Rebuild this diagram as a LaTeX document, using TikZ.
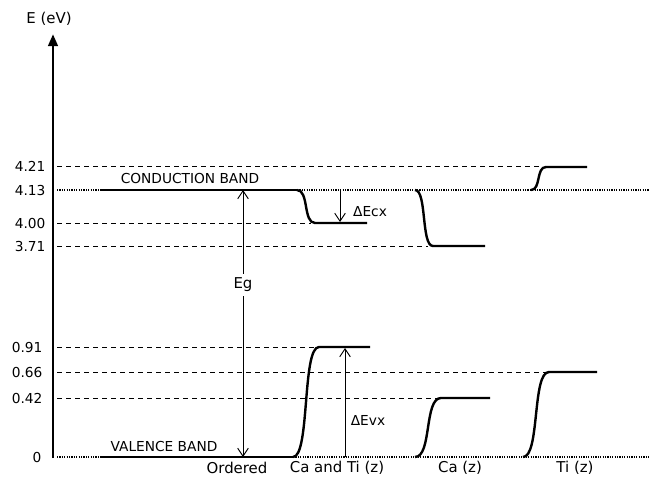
\documentclass[tikz,border=0pt]{standalone}
\usepackage{fontspec}
\setmainfont{DejaVu Sans}
\usetikzlibrary{arrows.meta}
\begin{document}
\begin{tikzpicture}[x=0.75pt,y=-0.75pt,
  lvl/.style={dash pattern=on 3.75pt off 3pt, line width=0.75pt},
  band/.style={line width=1.8pt},
  dotband/.style={line width=1.6pt, dash pattern=on 0.9pt off 0.9pt},
  meas/.style={line width=0.7pt},
  lab/.style={font=\fontsize{10.3}{12}\selectfont, inner sep=1pt},
  big/.style={font=\fontsize{11.2}{13}\selectfont, inner sep=1pt},
  ]
\useasboundingbox (0,0) rectangle (649,479);
% axis
\coordinate (ax0) at (53,458);
\coordinate (axtop) at (53,34);
\draw[line width=2.2pt, -{Triangle[length=9pt,width=7pt]}] (ax0) -- (axtop);
\node[big] (eunit) at (49,19) {E (eV)};
% tick labels
\node[lab, anchor=east] (t421) at (47,166) {4.21};
\node[lab, anchor=east] (t413) at (47,190) {4.13};
\node[lab, anchor=east] (t400) at (47,223) {4.00};
\node[lab, anchor=east] (t371) at (47,246) {3.71};
\node[lab, anchor=east] (t091) at (44,347) {0.91};
\node[lab, anchor=east] (t066) at (44,372) {0.66};
\node[lab, anchor=east] (t042) at (44,398) {0.42};
\node[lab, anchor=east] (t000) at (43,457) {0};
% dashed level lines
\coordinate (l421a) at (57,166); \coordinate (l421b) at (542,166);
\coordinate (l400a) at (57,223); \coordinate (l400b) at (311,223);
\coordinate (l371a) at (57,246); \coordinate (l371b) at (428,246);
\coordinate (l091a) at (57,347); \coordinate (l091b) at (314,347);
\coordinate (l066a) at (57,372); \coordinate (l066b) at (546,372);
\coordinate (l042a) at (57,398); \coordinate (l042b) at (437,398);
\draw[lvl] (l421a) -- (l421b);
\draw[lvl] (l400a) -- (l400b);
\draw[lvl] (l371a) -- (l371b);
\draw[lvl] (l091a) -- (l091b);
\draw[lvl] (l066a) -- (l066b);
\draw[lvl] (l042a) -- (l042b);
% band edges (dotted reference)
\coordinate (cbL) at (57,190); \coordinate (cb1) at (100,190); \coordinate (cb2) at (297,190); \coordinate (cbR) at (649,190);
\coordinate (vbL) at (57,457); \coordinate (vb1) at (100,457); \coordinate (vb2) at (293,457); \coordinate (vbR) at (649,457);
\draw[dotband] (cbL) -- (cb1);
\draw[dotband] (cb2) -- (cbR);
\draw[dotband] (vbL) -- (vb1);
\draw[dotband] (vb2) -- (vbR);
% ordered bands
\draw[band] (cb1) -- (cb2);
\draw[band] (vb1) -- (vb2);
% Ca and Ti (z)
\coordinate (c1a) at (315,223); \coordinate (c1b) at (367,223);
\draw[band] (cb2) .. controls +(12,0) and +(-12,0) .. (c1a) -- (c1b);
\coordinate (v1a) at (319,347); \coordinate (v1b) at (370,347);
\draw[band] (vb2) .. controls +(17,0) and +(-17,0) .. (v1a) -- (v1b);
% Ca (z)
\coordinate (c2s) at (415,190); \coordinate (c2a) at (433,246); \coordinate (c2b) at (485,246);
\draw[band] (c2s) .. controls +(12,0) and +(-12,0) .. (c2a) -- (c2b);
\coordinate (v2s) at (415,457); \coordinate (v2a) at (441,398); \coordinate (v2b) at (490,398);
\draw[band] (v2s) .. controls +(17,0) and +(-17,0) .. (v2a) -- (v2b);
% Ti (z)
\coordinate (c3s) at (531,190); \coordinate (c3a) at (546,167); \coordinate (c3b) at (587,167);
\draw[band] (c3s) .. controls +(10,0) and +(-10,0) .. (c3a) -- (c3b);
\coordinate (v3s) at (523,457); \coordinate (v3a) at (549,372); \coordinate (v3b) at (597,372);
\draw[band] (v3s) .. controls +(17,0) and +(-17,0) .. (v3a) -- (v3b);
% band labels
\node[lab] (cbname) at (190,178) {CONDUCTION BAND};
\node[lab] (vbname) at (164,446) {VALENCE BAND};
% Eg arrow
\coordinate (egtop) at (243,190); \coordinate (egbot) at (243,457);
\draw[meas, {Straight Barb[length=6pt,width=8pt]}-{Straight Barb[length=6pt,width=8pt]}] (egbot) -- (egtop);
\node[big, fill=white, inner sep=3pt] (eg) at (243,285) {Eg};
% Delta Ecx
\coordinate (ecxtop) at (340,190); \coordinate (ecxbot) at (340,222);
\draw[meas, -{Straight Barb[length=6pt,width=8pt]}] (ecxtop) -- (ecxbot);
\node[lab] (ecx) at (370,212) {ΔEcx};
% Delta Evx
\coordinate (evxbot) at (345,457); \coordinate (evxtop) at (345,348);
\draw[meas, -{Straight Barb[length=6pt,width=8pt]}] (evxbot) -- (evxtop);
\node[lab] (evx) at (368,420) {ΔEvx};
% bottom labels
\node[big] (ord) at (237,468) {Ordered};
\node[big] (cati) at (337,468) {Ca and Ti (z)};
\node[big] (ca) at (460,468) {Ca (z)};
\node[big] (ti) at (575,468) {Ti (z)};
\end{tikzpicture}
\end{document}
